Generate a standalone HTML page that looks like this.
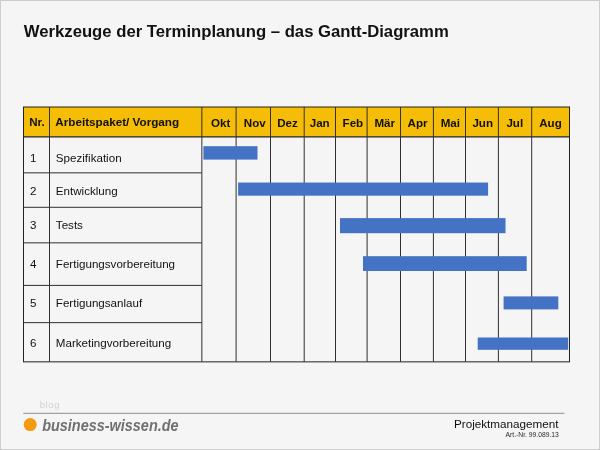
<!DOCTYPE html>
<html lang="de"><head><meta charset="utf-8"><title>Gantt-Diagramm</title>
<style>
html,body{margin:0;padding:0;}
body{width:600px;height:450px;overflow:hidden;background:#f5f5f5;position:relative;}
#frame{position:absolute;left:0;top:0;width:598px;height:448px;border:1px solid #cdcdcd;border-right-width:1.5px;border-bottom-width:1.5px;box-sizing:content-box;pointer-events:none;}
svg{position:absolute;left:0;top:0;will-change:transform;}
text{font-family:"Liberation Sans",Arial,sans-serif;fill:#111;}
.h{font-weight:bold;font-size:11.6px;}
.l{font-size:11.6px;}
</style></head><body>

<svg width="600" height="450" viewBox="0 0 600 450">
<rect x="23.5" y="107" width="546.0" height="29.75" fill="#f5bd06"/>
<rect x="23.5" y="107" width="546.0" height="254.85000000000002" fill="none" stroke="#222" stroke-width="1"/>
<line x1="23.5" y1="136.85" x2="569.5" y2="136.85" stroke="#222" stroke-width="1.2"/>
<line x1="23.5" y1="172.85" x2="201.85" y2="172.85" stroke="#303030" stroke-width="1"/>
<line x1="23.5" y1="207.3" x2="201.85" y2="207.3" stroke="#303030" stroke-width="1"/>
<line x1="23.5" y1="242.85" x2="201.85" y2="242.85" stroke="#303030" stroke-width="1"/>
<line x1="23.5" y1="285.4" x2="201.85" y2="285.4" stroke="#303030" stroke-width="1"/>
<line x1="23.5" y1="322.65" x2="201.85" y2="322.65" stroke="#303030" stroke-width="1"/>
<line x1="49.5" y1="107" x2="49.5" y2="361.85" stroke="#303030" stroke-width="1"/>
<line x1="201.85" y1="107" x2="201.85" y2="361.85" stroke="#303030" stroke-width="1"/>
<line x1="236.1" y1="107" x2="236.1" y2="361.85" stroke="#303030" stroke-width="1"/>
<line x1="270.5" y1="107" x2="270.5" y2="361.85" stroke="#303030" stroke-width="1"/>
<line x1="304.2" y1="107" x2="304.2" y2="361.85" stroke="#303030" stroke-width="1"/>
<line x1="335.5" y1="107" x2="335.5" y2="361.85" stroke="#303030" stroke-width="1"/>
<line x1="367.1" y1="107" x2="367.1" y2="361.85" stroke="#303030" stroke-width="1"/>
<line x1="400.5" y1="107" x2="400.5" y2="361.85" stroke="#303030" stroke-width="1"/>
<line x1="433.4" y1="107" x2="433.4" y2="361.85" stroke="#303030" stroke-width="1"/>
<line x1="465.5" y1="107" x2="465.5" y2="361.85" stroke="#303030" stroke-width="1"/>
<line x1="498.4" y1="107" x2="498.4" y2="361.85" stroke="#303030" stroke-width="1"/>
<line x1="531.7" y1="107" x2="531.7" y2="361.85" stroke="#303030" stroke-width="1"/>
<rect x="203.4" y="146.2" width="54.099999999999994" height="13.400000000000006" fill="#4472c4"/>
<rect x="238.1" y="182.55" width="250.00000000000003" height="13.149999999999977" fill="#4472c4"/>
<rect x="340" y="218.1" width="165.5" height="15.099999999999994" fill="#4472c4"/>
<rect x="363" y="256.2" width="163.70000000000005" height="14.800000000000011" fill="#4472c4"/>
<rect x="503.6" y="296.4" width="54.69999999999993" height="13.0" fill="#4472c4"/>
<rect x="477.7" y="337.5" width="90.50000000000006" height="12.300000000000011" fill="#4472c4"/>
<line x1="23.3" y1="413.3" x2="564.4" y2="413.3" stroke="#8c8c8c" stroke-width="1"/>
<circle cx="30.2" cy="424.6" r="6.5" fill="#f39a0e"/>
<text x="23.8" y="37.0" style="font-weight:bold;font-size:16.7px">Werkzeuge der Terminplanung – das Gantt-Diagramm</text>
<text x="29.2" y="125.94999999999999" class="h">Nr.</text>
<text x="55.3" y="126.35" class="h" style="font-size:11.7px">Arbeitspaket/ Vorgang</text>
<text x="220.75" y="126.6" class="h" text-anchor="middle">Okt</text>
<text x="254.8" y="126.6" class="h" text-anchor="middle">Nov</text>
<text x="287.5" y="126.6" class="h" text-anchor="middle">Dez</text>
<text x="319.7" y="126.6" class="h" text-anchor="middle">Jan</text>
<text x="352.9" y="126.6" class="h" text-anchor="middle">Feb</text>
<text x="384.7" y="126.6" class="h" text-anchor="middle">Mär</text>
<text x="417.5" y="126.6" class="h" text-anchor="middle">Apr</text>
<text x="450.3" y="126.6" class="h" text-anchor="middle">Mai</text>
<text x="482.7" y="126.6" class="h" text-anchor="middle">Jun</text>
<text x="514.8" y="126.6" class="h" text-anchor="middle">Jul</text>
<text x="550.5" y="126.6" class="h" text-anchor="middle">Aug</text>
<text x="29.9" y="161.5" class="l">1</text>
<text x="55.85" y="161.5" class="l">Spezifikation</text>
<text x="29.9" y="194.7" class="l">2</text>
<text x="55.85" y="194.7" class="l">Entwicklung</text>
<text x="29.9" y="228.7" class="l">3</text>
<text x="55.85" y="228.7" class="l">Tests</text>
<text x="29.9" y="268.2" class="l">4</text>
<text x="55.85" y="268.2" class="l">Fertigungsvorbereitung</text>
<text x="29.9" y="307.2" class="l">5</text>
<text x="55.85" y="307.2" class="l">Fertigungsanlauf</text>
<text x="29.9" y="346.6" class="l">6</text>
<text x="55.85" y="346.6" class="l">Marketingvorbereitung</text>
<text x="39.7" y="407.6" style="font-size:9.3px;letter-spacing:0.7px;fill:#d3d3d3">blog</text>
<text x="42.2" y="430.5" style="font-size:17px;font-weight:bold;font-style:italic;fill:#707070" textLength="136.4" lengthAdjust="spacingAndGlyphs">business-wissen.de</text>
<text x="558.6" y="427.7" text-anchor="end" style="font-size:11.7px">Projektmanagement</text>
<text x="558.8" y="437.0" text-anchor="end" style="font-size:6.75px;fill:#2a2a2a">Art.-Nr. 99.089.13</text>
</svg>
<div id="frame"></div>
</body></html>
